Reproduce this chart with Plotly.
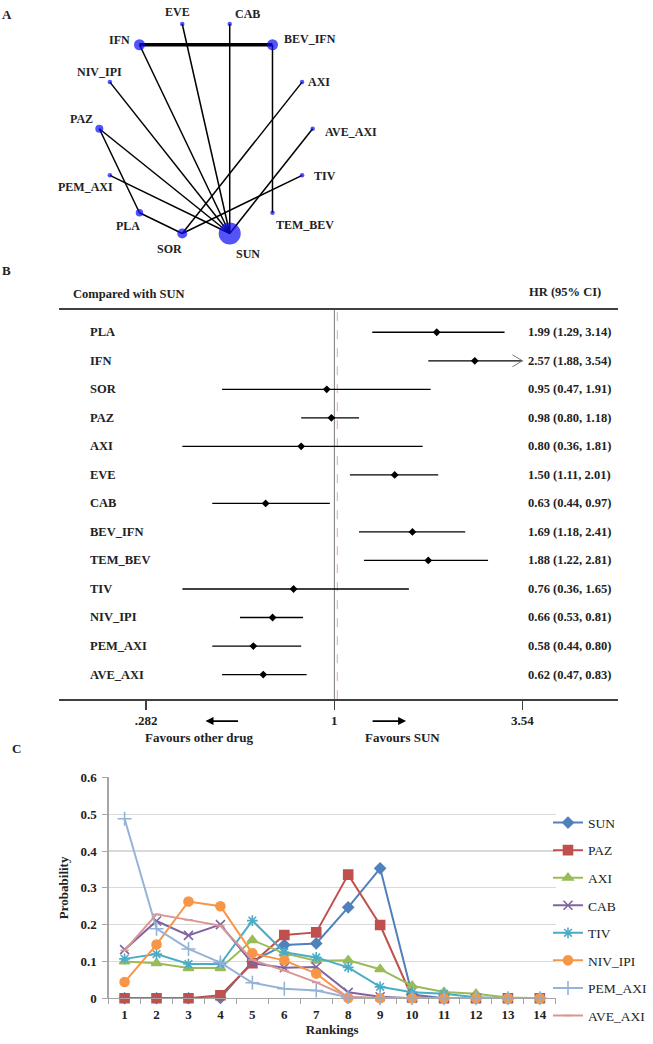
import numpy as np
import plotly.graph_objects as go

W, H = 653, 1044
SERIF = "Liberation Serif"

# ---------------- Panel A: network of treatments ----------------
nodes = ["AVE_AXI", "AXI", "BEV_IFN", "CAB", "EVE", "IFN", "NIV_IPI",
         "PAZ", "PEM_AXI", "PLA", "SOR", "SUN", "TEM_BEV", "TIV"]
node_weight = [1, 1, 6, 1, 1, 6, 1, 3.2, 1, 2.8, 4.9, 24, 1, 1]
edge_from = ["IFN", "BEV_IFN", "IFN", "EVE", "CAB", "NIV_IPI", "AXI",
             "AVE_AXI", "PAZ", "PAZ", "PEM_AXI", "TIV", "PLA"]
edge_to = ["BEV_IFN", "TEM_BEV", "SUN", "SUN", "SUN", "SUN", "SOR",
           "SUN", "SUN", "PLA", "SUN", "SOR", "SOR"]
edge_trials = [2, 1, 1, 1, 1, 1, 1, 1, 1, 1, 1, 1, 1]

# ---------------- Panel B: forest plot vs SUN ----------------
comparators = ["PLA", "IFN", "SOR", "PAZ", "AXI", "EVE", "CAB", "BEV_IFN",
               "TEM_BEV", "TIV", "NIV_IPI", "PEM_AXI", "AVE_AXI"]
hr = [1.99, 2.57, 0.95, 0.98, 0.80, 1.50, 0.63, 1.69, 1.88, 0.76, 0.66, 0.58, 0.62]
ci_lo = [1.29, 1.88, 0.47, 0.80, 0.36, 1.11, 0.44, 1.18, 1.22, 0.36, 0.53, 0.44, 0.47]
ci_hi = [3.14, 3.54, 1.91, 1.18, 1.81, 2.01, 0.97, 2.41, 2.81, 1.65, 0.81, 0.80, 0.83]
forest_ticks = [0.282, 1, 3.54]
forest_ticktext = [".282", "1", "3.54"]
null_hr = 1
ref_hr = 1.02

# ---------------- Panel C: rankogram ----------------
rankings = list(range(1, 15))
rank_names = ["SUN", "PAZ", "AXI", "CAB", "TIV", "NIV_IPI", "PEM_AXI", "AVE_AXI"]
p_SUN = [0, 0, 0, 0.001, 0.100, 0.145, 0.149, 0.247, 0.353, 0.010, 0, 0, 0, 0]
p_PAZ = [0, 0, 0, 0.008, 0.095, 0.172, 0.179, 0.336, 0.199, 0.003, 0, 0, 0, 0]
p_AXI = [0.100, 0.095, 0.082, 0.082, 0.158, 0.122, 0.102, 0.103, 0.079, 0.034, 0.017, 0.012, 0.002, 0]
p_CAB = [0.132, 0.210, 0.171, 0.200, 0.095, 0.083, 0.085, 0.016, 0.004, 0, 0, 0, 0, 0]
p_TIV = [0.107, 0.120, 0.093, 0.093, 0.211, 0.125, 0.111, 0.084, 0.031, 0.016, 0.012, 0.003, 0, 0]
p_NIV_IPI = [0.044, 0.146, 0.263, 0.250, 0.122, 0.103, 0.067, 0.001, 0, 0, 0, 0, 0, 0]
p_PEM_AXI = [0.488, 0.189, 0.134, 0.097, 0.042, 0.026, 0.021, 0.003, 0, 0, 0, 0, 0, 0]
p_AVE_AXI = [0.130, 0.228, 0.213, 0.197, 0.104, 0.075, 0.043, 0.004, 0.001, 0, 0, 0, 0, 0]
rank_probs = [p_SUN, p_PAZ, p_AXI, p_CAB, p_TIV, p_NIV_IPI, p_PEM_AXI, p_AVE_AXI]

# ---------------- helpers (layout in pixels) ----------------
def px(p):
    return p / W

def py(p):
    return 1 - p / H

fig = go.Figure()

# ===== Panel A =====
n = len(nodes)
ang = 2 * np.pi * np.arange(n) / n
nx = np.cos(ang)
ny = np.sin(ang)
pos = {name: (nx[k], ny[k]) for k, name in enumerate(nodes)}

for a, b, t in zip(edge_from, edge_to, edge_trials):
    fig.add_trace(go.Scatter(
        x=[pos[a][0], pos[b][0]], y=[pos[a][1], pos[b][1]],
        mode="lines", line=dict(color="black", width=1.5 if t == 1 else 3.6),
        xaxis="x", yaxis="y", showlegend=False, hoverinfo="skip"))

fig.add_trace(go.Scatter(
    x=nx, y=ny, mode="markers",
    marker=dict(color="#0a0af5", size=[4.5 * np.sqrt(w) for w in node_weight],
                line=dict(width=0)),
    text=nodes, xaxis="x", yaxis="y", showlegend=False))

label_offsets = {
    "AVE_AXI": (38, -3), "AXI": (17, 0), "BEV_IFN": (38, 6), "CAB": (18, 10),
    "EVE": (-5, 12), "IFN": (-20, 5), "NIV_IPI": (-10, 10), "PAZ": (-18, 10),
    "PEM_AXI": (-24, -12), "PLA": (-11, -13), "SOR": (-13, -16), "SUN": (18, -21),
    "TEM_BEV": (33, -12), "TIV": (23, -1),
}
for name in nodes:
    dx, dy = label_offsets[name]
    fig.add_annotation(x=pos[name][0], y=pos[name][1], xref="x", yref="y",
                       text=f"<b>{name}</b>", showarrow=False,
                       xanchor="center", yanchor="middle",
                       xshift=dx, yshift=dy,
                       font=dict(family=SERIF, size=12, color="#222222"))

# ===== Panel B =====
rows = list(range(len(comparators)))
yb_top, yb_bot = 307.0, 702.3
row0, drow = 330.0, 28.94
yb_range = [(yb_bot - row0) / drow, (yb_top - row0) / drow]

xs, ys = [], []
for i, (l, h) in enumerate(zip(ci_lo, ci_hi)):
    xs += [l, h, None]
    ys += [i, i, None]

fig.add_trace(go.Scatter(x=[null_hr, null_hr], y=[yb_range[0], yb_range[1]],
                         mode="lines", line=dict(color="#7a7a7a", width=1),
                         xaxis="x2", yaxis="y2", showlegend=False, hoverinfo="skip"))
fig.add_trace(go.Scatter(x=[ref_hr, ref_hr], y=[yb_range[0], yb_range[1]],
                         mode="lines", line=dict(color="#e8a3a3", width=1, dash="dash"),
                         xaxis="x2", yaxis="y2", showlegend=False, hoverinfo="skip"))
fig.add_trace(go.Scatter(x=xs, y=ys, mode="lines",
                         line=dict(color="black", width=1.3),
                         xaxis="x2", yaxis="y2", showlegend=False))
fig.add_trace(go.Scatter(x=hr, y=rows, mode="markers",
                         marker=dict(symbol="diamond", size=6, color="black"),
                         xaxis="x2", yaxis="y2", showlegend=False))

shapes = []
for i, h in enumerate(ci_hi):
    if h >= max(forest_ticks):
        shapes.append(dict(type="path", xref="x2", yref="y2",
                           xsizemode="pixel", ysizemode="pixel",
                           xanchor=h, yanchor=i,
                           path="M-10,6 L0,0 L-10,-6",
                           line=dict(color="#777777", width=1)))

for i, name in enumerate(comparators):
    fig.add_annotation(x=px(90), y=i, xref="paper", yref="y2",
                       xanchor="left", yanchor="middle",
                       text=f"<b>{name}</b>", showarrow=False,
                       font=dict(family=SERIF, size=12.5, color="#222222"))
    fig.add_annotation(x=px(626), y=i, xref="paper", yref="y2",
                       xanchor="right", yanchor="middle",
                       text=f"<b>{hr[i]:.2f} ({ci_lo[i]:.2f}, {ci_hi[i]:.2f})</b>",
                       showarrow=False,
                       font=dict(family=SERIF, size=12.5, color="#222222"))

def paper_text(text, x, y, size, xanchor="center"):
    fig.add_annotation(x=px(x), y=py(y), xref="paper", yref="paper",
                       xanchor=xanchor, yanchor="middle",
                       text=text, showarrow=False,
                       font=dict(family=SERIF, size=size, color="#222222"))

paper_text("<b>Compared with SUN</b>", 73, 291, 12.5, "left")
paper_text("<b>HR (95% CI)</b>", 577, 289, 12.5)
paper_text("<b>Favours other drug</b>", 204, 741, 13)
paper_text("<b>Favours SUN</b>", 411, 741, 13)

fig.add_annotation(x=px(210), y=py(724.5), xref="paper", yref="paper", text="",
                   showarrow=True, ax=34, ay=0, arrowhead=2, arrowsize=1,
                   arrowwidth=1.6, arrowcolor="black", standoff=0, startstandoff=0)
fig.add_annotation(x=px(415), y=py(724.5), xref="paper", yref="paper", text="",
                   showarrow=True, ax=-35, ay=0, arrowhead=2, arrowsize=1,
                   arrowwidth=1.6, arrowcolor="black", standoff=0, startstandoff=0)

# panel letters
paper_text("<b>A</b>", 7, 8, 13)
paper_text("<b>B</b>", 7, 267, 13)
paper_text("<b>C</b>", 17, 752, 13)

# ===== Panel C =====
colors = ["#4F81BD", "#C0504D", "#9BBB59", "#8064A2", "#4BACC6", "#F79646", "#95B3D7", "#D99694"]
symbols = ["diamond", "square", "triangle-up", "x-thin", "asterisk", "circle", "cross-thin", "line-ew"]
msizes = [8, 9, 9, 9, 9, 9, 10, 6]
for name, vals, c, s, ms in zip(rank_names, rank_probs, colors, symbols, msizes):
    fig.add_trace(go.Scatter(
        x=rankings, y=vals, name=name, legendgroup=name,
        mode="lines+markers", line=dict(color=c, width=2),
        marker=dict(symbol=s, size=ms, color=c, line=dict(color=c, width=1.6)),
        xaxis="x3", yaxis="y3", cliponaxis=False))

c_left, c_right, c_top, c_bot = 111, 568, 781.7, 1005.7

fig.update_layout(
    width=W, height=H,
    margin=dict(l=0, r=0, t=0, b=0),
    paper_bgcolor="white", plot_bgcolor="white",
    font=dict(family=SERIF, color="#222222"),
    hovermode=False,
    shapes=shapes,
    xaxis=dict(domain=[0, 1], range=[-210.5 / 109, (W - 210.5) / 109], visible=False),
    yaxis=dict(domain=[py(260), 1], range=[(123.5 - 260) / 109, 123.5 / 109], visible=False),
    xaxis2=dict(type="log", domain=[px(60), px(632)], anchor="y2",
                range=[np.log10(np.exp((60 - 341.7) / 152)), np.log10(np.exp((632 - 341.7) / 152))],
                tickvals=forest_ticks, ticktext=forest_ticktext,
                ticks="outside", ticklen=9, tickwidth=1.3, tickcolor="#404040",
                showline=True, linecolor="#404040", linewidth=1.4, mirror=True,
                showgrid=False, zeroline=False,
                tickfont=dict(family=SERIF, size=13, color="#222222", weight="bold")),
    yaxis2=dict(domain=[py(yb_bot), py(yb_top)], range=yb_range, anchor="x2",
                visible=False),
    xaxis3=dict(domain=[px(c_left), px(c_right)], anchor="y3", range=[0.5, 14.5],
                tickmode="array", tickvals=rankings, ticks="",
                ticklabelstandoff=4,
                minor=dict(ticks="outside", tick0=0.5, dtick=1, ticklen=5,
                           tickcolor="#a6a6a6", tickwidth=1, showgrid=False),
                showline=True, linecolor="#a6a6a6", linewidth=1.2,
                showgrid=False, zeroline=False,
                tickfont=dict(family=SERIF, size=13, color="#222222", weight="bold"),
                title=dict(text="Rankings", standoff=3,
                           font=dict(family=SERIF, size=13, color="#222222", weight="bold"))),
    yaxis3=dict(domain=[py(c_bot), py(c_top)], anchor="x3", range=[0, 0.6],
                tickmode="array", tickvals=[0, 0.1, 0.2, 0.3, 0.4, 0.5, 0.6],
                ticktext=["0", "0.1", "0.2", "0.3", "0.4", "0.5", "0.6"],
                ticks="outside", ticklen=5, tickcolor="#a6a6a6",
                ticklabelstandoff=3,
                showline=True, linecolor="#a6a6a6", linewidth=1.2,
                showgrid=True, gridcolor="#d9d9d9", gridwidth=1.2, zeroline=False,
                tickfont=dict(family=SERIF, size=13, color="#222222", weight="bold"),
                title=dict(text="Probability", standoff=9,
                           font=dict(family=SERIF, size=13, color="#222222", weight="bold"))),
    legend=dict(x=px(560), y=py(812), xanchor="left", yanchor="top",
                bgcolor="rgba(0,0,0,0)", tracegroupgap=7,
                font=dict(family=SERIF, size=13.5, color="#222222")),
)

fig.write_html(
    "out.html",
    config={"displayModeBar": False, "staticPlot": True},
    post_script="document.body.style.margin='0px';document.body.style.padding='0px';",
)
